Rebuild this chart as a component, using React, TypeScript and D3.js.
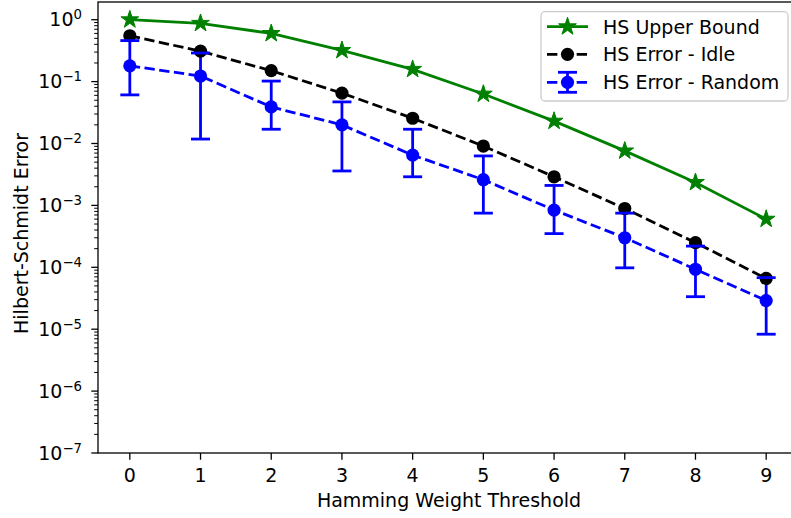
import React from "react";
import * as d3 from "d3";

const thresholds = [0, 1, 2, 3, 4, 5, 6, 7, 8, 9];
const upperBound = [1.0, 0.875, 0.6, 0.32, 0.158, 0.063, 0.023, 0.0076, 0.00235, 0.0006];
const idleError = [0.55, 0.31, 0.15, 0.065, 0.0256, 0.0091, 0.0029, 0.00089, 0.00025, 0.000066];
const randomError = [0.18, 0.123, 0.039, 0.02, 0.0065, 0.0026, 0.00084, 0.0003, 0.000093, 0.000029];
const randomUpper = [0.46, 0.29, 0.102, 0.047, 0.017, 0.0063, 0.0021, 0.00075, 0.00022, 0.000068];
const randomLower = [0.061, 0.0118, 0.017, 0.0036, 0.0029, 0.00075, 0.00035, 0.000098, 0.0000335, 0.0000083];
const yTickExps = [0, -1, -2, -3, -4, -5, -6, -7];
const legendLabels = ["HS Upper Bound", "HS Error - Idle", "HS Error - Random"];

const W = 791;
const H = 518;
const L = 98, R = 798, T = 2, B = 453;
const FONT = "DejaVu Sans, sans-serif";
const FS = 19;
const SUP = 13.3;
const GREEN = "#008000";
const BLUE = "#0000ff";
const BLACK = "#000000";

export default function App() {
  const x = d3.scaleLinear().domain([-0.45, 9.45]).range([L, R]);
  const y = d3.scaleLog().domain([1e-7, Math.pow(10, 0.286)]).range([B, T]);

  const line = d3
    .line<number>()
    .x((_, i) => x(thresholds[i]))
    .y((d) => y(d));

  const star = d3.symbol().type(d3.symbolStar).size(98)();

  const minorTicks: number[] = [];
  for (let e = -7; e <= 0; e++) {
    for (let m = 2; m <= 9; m++) {
      const v = m * Math.pow(10, e);
      if (v <= y.domain()[1]) minorTicks.push(v);
    }
  }

  const lw = 2.8;
  const dash = `${3.7 * lw},${1.6 * lw}`;
  const capW = 9.5;
  const mr = 6.6;

  const lx0 = 547, lx1 = 588, lxm = (lx0 + lx1) / 2;
  const rows = [26.7, 54.3, 82.3];

  return (
    <svg
      width={W}
      height={H}
      viewBox={`0 0 ${W} ${H}`}
      style={{ position: "absolute", left: 0, top: 0, background: "#fff" }}
      fontFamily={FONT}
    >
      <rect x={0} y={0} width={W} height={H} fill="#fff" />
      <defs>
        <clipPath id="plotclip">
          <rect x={L} y={T} width={R - L} height={B - T} />
        </clipPath>
      </defs>

      {thresholds.map((t) => (
        <g key={"xt" + t}>
          <line x1={x(t)} x2={x(t)} y1={B} y2={B + 6.7} stroke="#000" strokeWidth={1.3} />
          <text x={x(t)} y={482} fontSize={FS} textAnchor="middle" fill="#000">
            {t}
          </text>
        </g>
      ))}
      {minorTicks.map((v, i) => (
        <line key={"mt" + i} x1={L - 3.8} x2={L} y1={y(v)} y2={y(v)} stroke="#000" strokeWidth={1} />
      ))}
      {yTickExps.map((e) => {
        const yy = y(Math.pow(10, e));
        return (
          <g key={"yt" + e}>
            <line x1={L - 6.7} x2={L} y1={yy} y2={yy} stroke="#000" strokeWidth={1.3} />
            <text x={82} y={yy + 6.7} fontSize={FS} textAnchor="end" fill="#000">
              10
              <tspan fontSize={SUP} dy={-7}>
                {e === 0 ? "0" : "\u2212" + Math.abs(e)}
              </tspan>
            </text>
          </g>
        );
      })}

      <g clipPath="url(#plotclip)">
        {thresholds.map((t, i) => (
          <line
            key={"eb" + i}
            x1={x(t)}
            x2={x(t)}
            y1={y(randomUpper[i])}
            y2={y(randomLower[i])}
            stroke={BLUE}
            strokeWidth={lw}
          />
        ))}

        <path d={line(upperBound) || ""} fill="none" stroke={GREEN} strokeWidth={lw} />
        {upperBound.map((v, i) => (
          <path
            key={"st" + i}
            d={star || ""}
            transform={`translate(${x(thresholds[i])},${y(v)})`}
            fill={GREEN}
            stroke={GREEN}
            strokeWidth={1}
            strokeLinejoin="miter"
          />
        ))}

        <path d={line(idleError) || ""} fill="none" stroke={BLACK} strokeWidth={lw} strokeDasharray={dash} />
        {idleError.map((v, i) => (
          <circle key={"bk" + i} cx={x(thresholds[i])} cy={y(v)} r={mr} fill={BLACK} />
        ))}

        {thresholds.map((t, i) => (
          <g key={"cap" + i}>
            <line x1={x(t) - capW} x2={x(t) + capW} y1={y(randomUpper[i])} y2={y(randomUpper[i])} stroke={BLUE} strokeWidth={lw} />
            <line x1={x(t) - capW} x2={x(t) + capW} y1={y(randomLower[i])} y2={y(randomLower[i])} stroke={BLUE} strokeWidth={lw} />
          </g>
        ))}

        <path d={line(randomError) || ""} fill="none" stroke={BLUE} strokeWidth={lw} strokeDasharray={dash} />
        {randomError.map((v, i) => (
          <circle key={"bl" + i} cx={x(thresholds[i])} cy={y(v)} r={mr} fill={BLUE} />
        ))}
      </g>

      <rect x={L} y={T} width={R - L} height={B - T} fill="none" stroke="#000" strokeWidth={1.3} />

      <text x={449} y={507} fontSize={FS} textAnchor="middle" fill="#000">
        Hamming Weight Threshold
      </text>
      <text
        transform={`translate(28,${(T + B) / 2 + 6}) rotate(-90)`}
        fontSize={FS}
        textAnchor="middle"
        fill="#000"
      >
        Hilbert-Schmidt Error
      </text>

      <rect x={541} y={11.7} width={247} height={89.3} rx={4} ry={4} fill="#fff" fillOpacity={0.8} stroke="#cccccc" strokeWidth={1.3} />
      <g>
        <line x1={lx0} x2={lx1} y1={rows[0]} y2={rows[0]} stroke={GREEN} strokeWidth={lw} />
        <path d={star || ""} transform={`translate(${lxm},${rows[0]})`} fill={GREEN} stroke={GREEN} strokeWidth={1} />
        <text x={603} y={rows[0] + 6.8} fontSize={FS} fill="#000">{legendLabels[0]}</text>

        <line x1={lx0} x2={lx1} y1={rows[1]} y2={rows[1]} stroke={BLACK} strokeWidth={lw} strokeDasharray={dash} />
        <circle cx={lxm} cy={rows[1]} r={mr} fill={BLACK} />
        <text x={603} y={rows[1] + 6.8} fontSize={FS} fill="#000">{legendLabels[1]}</text>

        <line x1={lxm} x2={lxm} y1={rows[2] - 10} y2={rows[2] + 10} stroke={BLUE} strokeWidth={lw} />
        <line x1={lxm - capW} x2={lxm + capW} y1={rows[2] - 10} y2={rows[2] - 10} stroke={BLUE} strokeWidth={lw} />
        <line x1={lxm - capW} x2={lxm + capW} y1={rows[2] + 10} y2={rows[2] + 10} stroke={BLUE} strokeWidth={lw} />
        <line x1={lx0} x2={lx1} y1={rows[2]} y2={rows[2]} stroke={BLUE} strokeWidth={lw} strokeDasharray={dash} />
        <circle cx={lxm} cy={rows[2]} r={mr} fill={BLUE} />
        <text x={603} y={rows[2] + 6.8} fontSize={FS} fill="#000">{legendLabels[2]}</text>
      </g>
    </svg>
  );
}
